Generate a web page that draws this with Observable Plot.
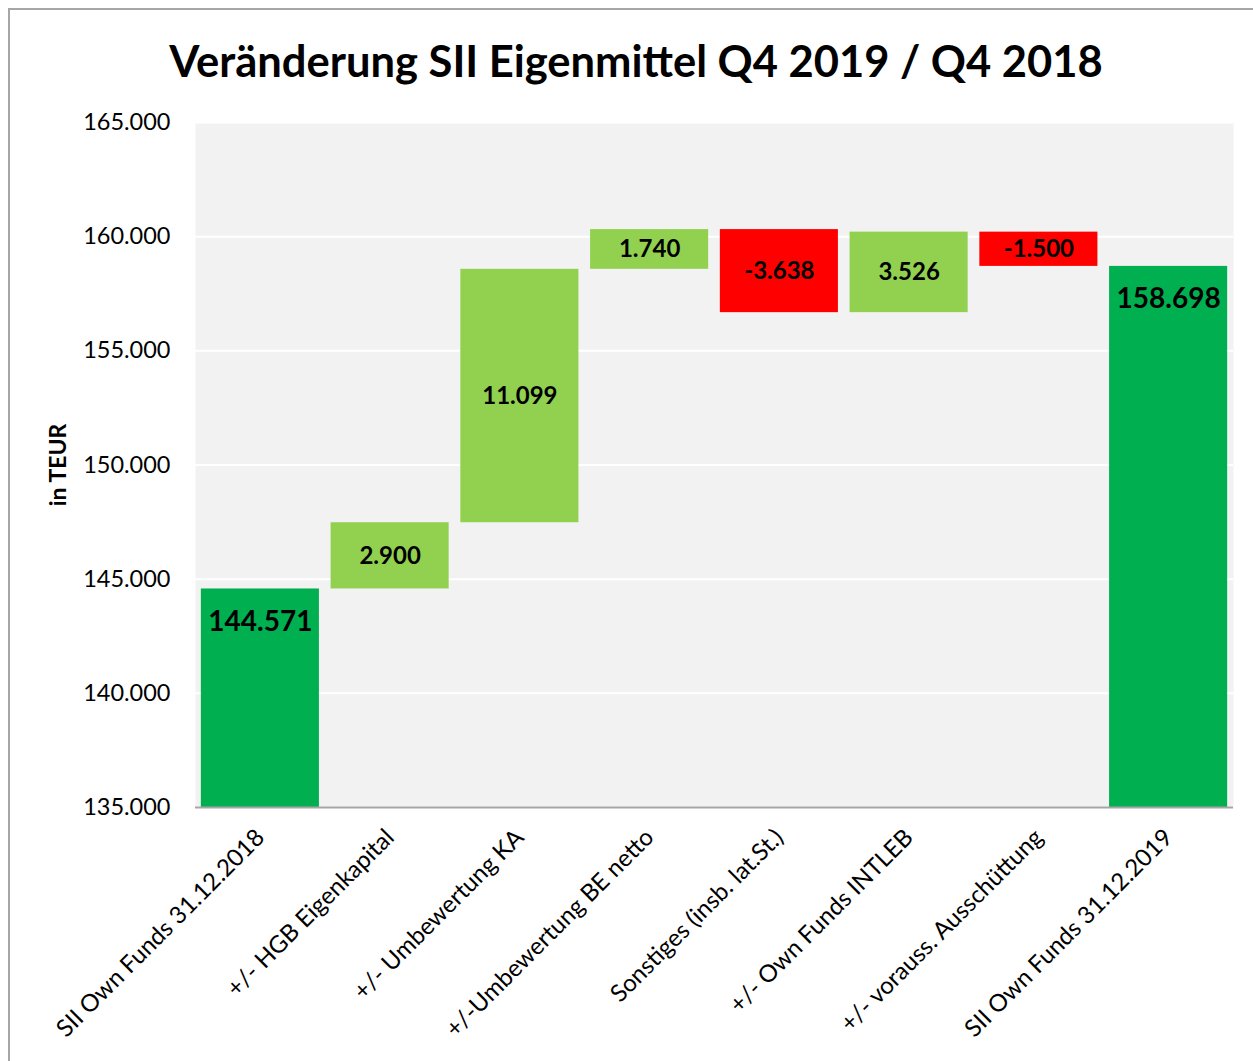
<!DOCTYPE html>
<html>
<head>
<meta charset="utf-8">
<script src="https://cdn.jsdelivr.net/npm/d3@7"></script>
<script src="https://cdn.jsdelivr.net/npm/@observablehq/plot@0.6"></script>
<style>
  html, body { margin: 0; padding: 0; background: #fff; overflow: hidden; }
  #wrap { position: relative; width: 1253px; height: 1061px; }
  #border { position: absolute; left: 8px; top: 8px; width: 1300px; height: 1100px; border: 2px solid #a6a6a6; box-sizing: border-box; }
  #title { position: absolute; left: 0; top: 32px; width: 1272px; text-align: center; font-family: Lato, sans-serif; font-weight: bold; font-size: 43.5px; color: #000; line-height: 56px; }
  #chart { position: absolute; left: 0; top: 110px; }
</style>
</head>
<body>
<div id="wrap">
  <div id="border"></div>
  <div id="title">Veränderung SII Eigenmittel Q4 2019 / Q4 2018</div>
  <div id="chart"></div>
</div>
<script>
const categories = [
  "SII Own Funds 31.12.2018",
  "+/- HGB Eigenkapital",
  "+/- Umbewertung KA",
  "+/-Umbewertung BE netto",
  "Sonstiges (insb. lat.St.)",
  "+/- Own Funds INTLEB",
  "+/- vorauss. Ausschüttung",
  "SII Own Funds 31.12.2019"
];
const values = [144571, 2900, 11099, 1740, -3638, 3526, -1500, 158698];
const kinds = ["total", "delta", "delta", "delta", "delta", "delta", "delta", "total"];
const yTicks = [135000, 140000, 145000, 150000, 155000, 160000, 165000];
const yLabel = "in TEUR";

const colors = { total: "#00b050", up: "#92d050", down: "#ff0000" };
const fmt = d3.formatLocale({ decimal: ",", thousands: ".", grouping: [3], currency: ["", " €"], minus: "-" }).format(",.0f");

let running = 0;
const rows = categories.map((c, i) => {
  const v = values[i];
  let y1, y2, color;
  if (kinds[i] === "total") {
    y1 = 0; y2 = v; running = v; color = colors.total;
  } else {
    y1 = running; y2 = running + v; running = y2; color = v >= 0 ? colors.up : colors.down;
  }
  return { cat: c, y1, y2, color, kind: kinds[i], label: fmt(v), mid: kinds[i] === "total" ? v : (y1 + y2) / 2 };
});

const chart = Plot.plot({
  width: 1253,
  height: 951,
  marginTop: 12,
  marginLeft: 195,
  marginRight: 20,
  marginBottom: 254,
  style: { fontFamily: "Lato, sans-serif", fontSize: "22px", color: "#000", background: "transparent", overflow: "visible" },
  x: { domain: categories, paddingInner: 0.09, paddingOuter: 0.045, round: false, label: null },
  y: { domain: [135000, 165000], label: null },
  color: { type: "identity" },
  marks: [
    Plot.frame({ fill: "#f2f2f2", stroke: null }),
    Plot.gridY(yTicks, { stroke: "#ffffff", strokeOpacity: 1, strokeWidth: 2 }),
    Plot.barY(rows, { x: "cat", y1: "y1", y2: "y2", fill: "color", clip: true }),
    Plot.ruleY([135000], { stroke: "#a6a6a6", strokeWidth: 2 }),
    Plot.axisY(yTicks, { tickSize: 0, tickPadding: 25, tickFormat: fmt, fontSize: 23.5, label: null }),
    Plot.text([yLabel], { frameAnchor: "left", textAnchor: "middle", rotate: -90, dx: -137, fontSize: 23, fontWeight: "bold", fill: "#000" }),
    Plot.axisX({ tickSize: 0, tickRotate: -45, tickPadding: 26, fontSize: 24, label: null }),
    Plot.text(rows.filter(d => d.kind === "delta"), { x: "cat", y: "mid", text: "label", fontSize: 24, fontWeight: "bold", fill: "#000" }),
    Plot.text(rows.filter(d => d.kind === "total"), { x: "cat", y: "mid", text: "label", fontSize: 28, fontWeight: "bold", fill: "#000", dy: 33 })
  ]
});
document.getElementById("chart").appendChild(chart);
</script>
</body>
</html>
